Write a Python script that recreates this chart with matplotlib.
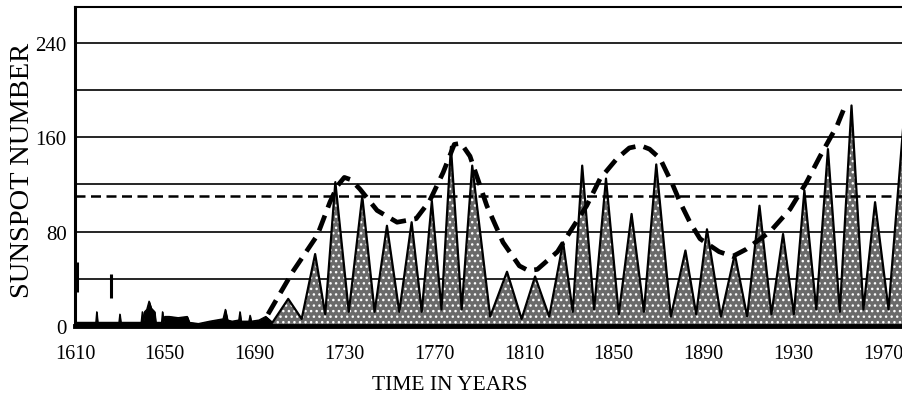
import matplotlib
matplotlib.use("Agg")
import matplotlib.pyplot as plt

plt.rcParams['font.family'] = ['Liberation Serif', 'DejaVu Serif']
plt.rcParams['hatch.linewidth'] = 1.0

# early record (Maunder minimum), drawn as black fill
early_years = [1610, 1613, 1619.3, 1619.7, 1620.1, 1629.6, 1630, 1630.4, 1639.5, 1640, 1640.5,
               1641, 1642, 1643, 1644, 1645.5, 1646, 1648.6, 1649, 1649.4, 1650, 1652, 1656,
               1660, 1661, 1665, 1670, 1673, 1676, 1677, 1678, 1680, 1683, 1683.5, 1684,
               1687.5, 1688, 1688.5, 1692, 1695, 1698]
early_vals = [3, 3, 3, 12, 3, 3, 10, 3, 3, 12, 4,
              12, 14, 21, 15, 12, 3, 3, 12, 3, 8, 8, 7,
              8, 3, 2, 4, 5, 6, 14, 5, 4, 5, 12, 4,
              4, 9, 4, 5, 8, 3]

# odd vertical marks near the start of the record
spike_years = [1611, 1626]
spike_low = [29, 24]
spike_high = [54, 44]

# solar cycles (minimum / maximum points)
cycle_years = [1698, 1705, 1711, 1717, 1721.5, 1726, 1732, 1738, 1743.5, 1749, 1754.5, 1760,
               1764.5, 1769, 1773.3, 1777.5, 1782.3, 1787, 1795, 1802.5, 1809, 1815, 1821.3,
               1827.5, 1831.8, 1836, 1841.3, 1846.6, 1852.3, 1858, 1863.5, 1869, 1875.5, 1882,
               1886.8, 1891.6, 1897.8, 1904, 1909.5, 1915, 1920.3, 1925.5, 1930.3, 1935, 1940.3,
               1945.5, 1950.8, 1956, 1961.3, 1966.5, 1972.5, 1979]
cycle_vals = [3, 23, 6, 61, 10, 122, 12, 110, 12, 85, 12, 88,
              12, 106, 14, 152, 14, 136, 8, 46, 6, 42, 8,
              71, 12, 136, 14, 125, 10, 95, 12, 137, 8, 64,
              10, 82, 8, 61, 8, 102, 10, 78, 10, 115, 14,
              150, 12, 187, 14, 105, 14, 168]

# long-term envelope (heavy dashed curve)
env_years = [1696, 1707, 1718, 1723.6, 1727, 1730, 1733, 1737, 1744.6, 1753.5, 1762, 1768,
             1774, 1779, 1782, 1786, 1793.5, 1800.7, 1808, 1812, 1816, 1825, 1830.6, 1838,
             1844, 1851.5, 1857, 1862, 1866, 1870.7, 1876.5, 1879.6, 1884, 1888.5, 1897,
             1903, 1909, 1919.7, 1928.6, 1936, 1942, 1949.6, 1953]
env_vals = [10, 46, 77, 105, 119, 126, 124, 116, 98, 88, 91, 106,
            130, 154, 155, 144, 102, 71, 51, 47, 48, 63, 80, 102,
            125, 142, 151, 153, 150, 142, 119, 105, 88, 74, 63,
            59, 65, 80, 99, 122, 144, 170, 186]

mean_level = 110
grid_levels = [40, 80, 120, 160, 200, 240]
x_ticks = [1610, 1650, 1690, 1730, 1770, 1810, 1850, 1890, 1930, 1970]
y_ticks = [0, 80, 160, 240]

fig = plt.figure(figsize=(9.02, 4.02), dpi=100)
ax = fig.add_axes([75/902, 75/402, 827/902, 319/402])

for g in grid_levels:
    ax.axhline(g, color='black', lw=1.2, zorder=1)

# early black record
ax.fill_between(early_years, 0, early_vals, color='black', lw=0.8, zorder=2)
ax.plot(early_years, early_vals, color='black', lw=1.0, zorder=2)
ax.vlines(spike_years, spike_low, spike_high, color='black', lw=2.2, zorder=2)

# stippled cycles
ax.fill_between(cycle_years, 0, cycle_vals, color='#6a6a6a', lw=0, zorder=2)
ax.fill_between(cycle_years, 0, cycle_vals, facecolor='none', hatch='...',
                edgecolor='white', lw=0, zorder=3)
ax.plot(cycle_years, cycle_vals, color='black', lw=1.6, zorder=4)

ax.axhline(mean_level, color='black', lw=1.8, dashes=(4, 2.2), zorder=5)
ax.plot(env_years, env_vals, color='black', lw=3.4, dashes=(3.4, 1.8),
        solid_capstyle='butt', zorder=6)

ax.set_xlim(1610, 1978.5)
ax.set_ylim(0, 270.5)
ax.set_xticks(x_ticks)
ax.set_yticks(y_ticks)
ax.tick_params(axis='x', length=0, pad=13, labelsize=14.5)
ax.tick_params(axis='y', length=0, pad=6, labelsize=15)

ax.spines['right'].set_visible(False)
ax.spines['left'].set_linewidth(2.2)
ax.spines['top'].set_linewidth(1.5)
ax.spines['bottom'].set_linewidth(3.5)

fig.text(450/902, 1 - 386/402, 'TIME IN YEARS', ha='center', va='center', fontsize=15.5)
fig.text(23/902, 1 - 170/402, 'SUNSPOT NUMBER', ha='center', va='center',
         rotation=90, fontsize=20.5)

fig.savefig('out.png', dpi=100)
